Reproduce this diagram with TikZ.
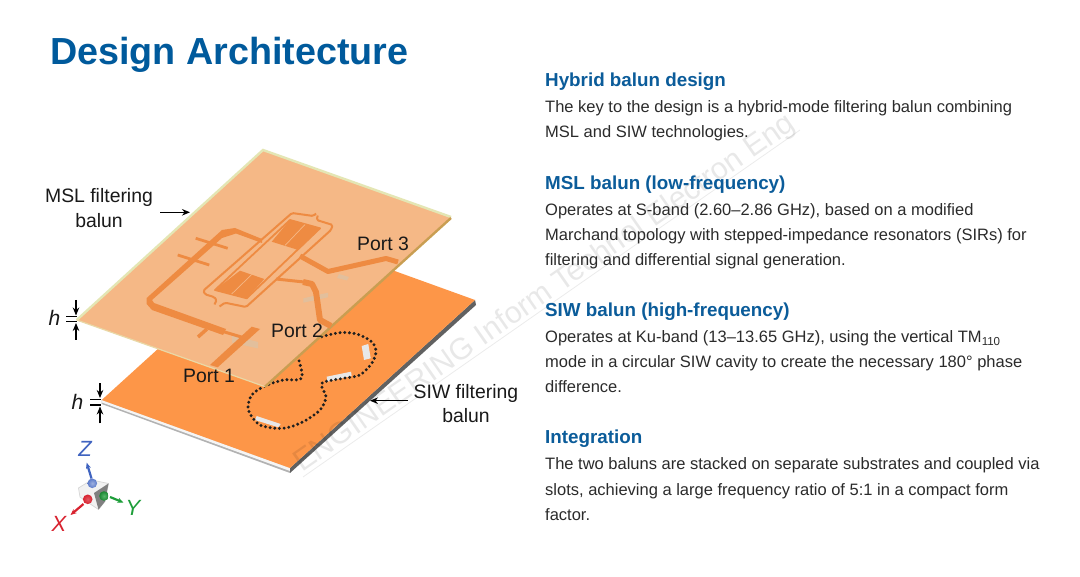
\documentclass[tikz,border=0pt]{standalone}
\usepackage{fontspec}
\setmainfont{Liberation Sans}
\usetikzlibrary{arrows.meta}
\definecolor{titleblue}{HTML}{005A9C}
\definecolor{headblue}{HTML}{0B5C9A}
\definecolor{bodytext}{HTML}{2B2B2B}
\definecolor{topboard}{HTML}{F5B886}
\definecolor{botboard}{HTML}{FD9648}
\definecolor{trace}{HTML}{EE8B42}
\definecolor{edgepale}{HTML}{E4E6B4}
\definecolor{edgegold}{HTML}{C99E52}
\definecolor{slotc}{HTML}{E2BF9C}
\definecolor{axblue}{HTML}{3F63C0}
\definecolor{axred}{HTML}{D8222F}
\definecolor{axgreen}{HTML}{1E9E3A}
\tikzset{
  head/.style={anchor=base west,inner sep=0pt,font=\fontsize{18.8}{20}\selectfont\bfseries,text=headblue},
  body/.style={anchor=base west,inner sep=0pt,font=\fontsize{16.5}{18}\selectfont,text=bodytext},
  lab/.style={inner sep=0pt,font=\fontsize{19.4}{21}\selectfont,text=black!90},
  hlab/.style={inner sep=0pt,font=\fontsize{21}{23}\selectfont\itshape,text=black!90},
  axlab/.style={inner sep=0pt,font=\fontsize{22}{24}\selectfont\itshape},
  tr/.style={draw=trace,line join=round},
  arr/.style={-{Stealth[length=8pt,width=6.5pt]},line width=1.1pt,black},
  tick/.style={line width=1.1pt,black},
  dots/.style={line width=3.3pt,line cap=round,dash pattern=on 0pt off 4.7pt,black!88},
  slotw/.style={fill=black!9,draw=none},
  slott/.style={fill=slotc,draw=none},
  axarr/.style={-{Stealth[length=6pt,width=5pt]},line width=2.2pt},
}
\begin{document}
\begin{tikzpicture}[x=1pt,y=-1pt]
\useasboundingbox (0,0) rectangle (1080,577);
\fill[white] (0,0) rectangle (1080,577);

% lower board
\fill[black!30] (101.7,400) -- (290,468) -- (290,473) -- (101.7,404) -- cycle;
\fill[black!4] (101.7,400) -- (290,468) -- (290,471) -- (101.7,402.4) -- cycle;
\fill[black!62] (290,468) -- (475,300) -- (476,305) -- (290,473) -- cycle;
\fill[botboard] (101.7,400) -- (286.7,232) -- (475,300) -- (290,468) -- cycle;

% lower slots
\fill[slotw] (361.7,346) -- (368.3,344) -- (370.7,358.3) -- (364,360) -- cycle;
\fill[slotw] (326.7,376.7) -- (351,371.7) -- (351.7,376) -- (327.3,381.7) -- cycle;
\fill[slotw] (256.7,416) -- (280.7,424) -- (278.3,427.3) -- (255,420) -- cycle;

% cavity
\draw[dots] plot[smooth] coordinates {(321.7,336.7) (340,332.7) (356.7,334) (371.7,341.7) (376,351.7) (371.7,363.3) (360,375) (343.3,378.3) (321.7,383.3) (326,396.7) (320,410) (303.3,421.7) (283.3,428.3) (260,425) (248.3,410) (251.7,395) (265,386) (283.3,380) (301.7,378.3) (298.3,358.3)};

% upper board
\fill[topboard] (76.7,320) -- (263,150) -- (451,217) -- (265,386.7) -- cycle;
\draw[edgepale,line width=2.4pt] (76.7,320) -- (263,150) -- (451,217);
\draw[edgepale!70!topboard,line width=1.2pt] (76.7,320) -- (265,386.7);
\draw[edgegold,line width=2.4pt] (265,386.7) -- (451,218);

% upper slots
\fill[slott] (232,335.5) -- (258,342) -- (258,348.5) -- (232,342.5) -- cycle;
\fill[slott] (303.3,298.3) -- (328,292.7) -- (328,297.3) -- (303.3,302.7) -- cycle;
\fill[slott] (339,274) -- (349,277) -- (347,280.5) -- (337,278) -- cycle;

% feed network
\fill[trace] (210,365) -- (217.7,367.3) -- (260,329) -- (251.7,326.7) -- cycle;
\draw[tr,line width=3pt] (218,330) -- (243,337.5);
\fill[trace] (146.7,298) -- (146.7,304) -- (152,310) -- (223,335) -- (226,329) -- (154,303) -- (152,300) -- (222,238) -- (236,233.5) -- (262,243) -- (262,239) -- (235,228) -- (222,230) -- cycle;
\draw[tr,line width=3.5pt] (207,329) -- (198,337);
\draw[tr,line width=2.8pt] (195.7,238.3) -- (227.7,248.3);
\draw[tr,line width=2.8pt] (177.7,255) -- (209.3,265);

% right traces
\draw[tr,line width=5pt] (300,256) -- (328,271.5) -- (386,258.5) -- (398,262);
\draw[tr,line width=3pt] (276,279) -- (304,282);
\draw[tr,line width=6pt] (303,282) -- (312,284) -- (316,292) -- (320,320) -- (331,326);

% filter ring
\draw[tr,line width=2pt,rounded corners=1.5pt] (316,213.5) -- (313.3,216) -- (292,213) -- (203.3,290.7) -- (205,294.3) -- (214,297) -- (216.7,300) -- (214.5,304.5);
\draw[tr,line width=2pt,rounded corners=1.5pt] (317.7,215.5) -- (316.7,220) -- (332.7,225) -- (331,230) -- (246,307) -- (225,302.7) -- (219.5,306.5);
\draw[tr,line width=1.8pt] (290,220) -- (320,228.3) -- (246.7,298.3) -- (215,290) -- cycle;
\fill[trace] (290,220) -- (320,228.3) -- (298.3,250) -- (271.7,241.7) -- cycle;
\fill[trace] (240,270.7) -- (264.3,279) -- (246.7,298.3) -- (215,290) -- cycle;
\draw[topboard,line width=.7pt] (305,224.5) -- (285,245.5) (251.7,274.5) -- (231.7,294);

% watermark
\node[anchor=base west,inner sep=0pt,rotate=34.9,font=\fontsize{30.4}{33}\selectfont,text=black,text opacity=.09] (wm) at (302,473) {ENGINEERING Inform Technol Electron Eng};
\coordinate (wma) at (303,477);
\coordinate (wmb) at (800,130);
\draw[black,opacity=.08,line width=.8pt] (wma) -- (wmb);

% labels
\node[lab,align=center] (mslt) at (99,197) {MSL filtering};
\node[lab] (mslb) at (99,221) {balun};
\coordinate (mslaa) at (160,212.3); \coordinate (mslab) at (190,212.3);
\draw[arr] (mslaa) -- (mslab);
\node[lab] (p3) at (383,244) {Port 3};
\node[lab] (p2) at (297,331) {Port 2};
\node[lab] (p1) at (209,376) {Port 1};
\node[lab] (siwt) at (466,393) {SIW filtering};
\node[lab] (siwb) at (466,416) {balun};
\coordinate (siwa) at (408,400.7); \coordinate (siwc) at (370,400.7);
\draw[arr] (siwa) -- (siwc);

% h marks
\node[hlab] (h1) at (54.5,318) {h};
\draw[tick] (66,316.7) -- (77,316.7) (66,321.7) -- (77,321.7);
\coordinate (h1a) at (76,300); \coordinate (h1b) at (76,315.5);
\coordinate (h1c) at (76,340); \coordinate (h1d) at (76,323);
\draw[arr] (h1a) -- (h1b);
\draw[arr] (h1c) -- (h1d);
\node[hlab] (h2) at (77.5,401.5) {h};
\draw[tick] (90,399.3) -- (101,399.3) (90,405) -- (101,405);
\coordinate (h2a) at (100,383.3); \coordinate (h2b) at (100,398);
\coordinate (h2c) at (100,423.3); \coordinate (h2d) at (100,406.5);
\draw[arr] (h2a) -- (h2b);
\draw[arr] (h2c) -- (h2d);

% axis triad
\fill[black!5] (78.5,488) -- (91.5,480) -- (108.5,483.5) -- (105,501.5) -- (98.5,509.5) -- (80,497) -- cycle;
\draw[black!16,line width=.7pt] (78.5,488) -- (91.5,480) -- (108.5,483.5) -- (105,501.5) -- (98.5,509.5) -- (80,497) -- cycle;
\fill[black!50] (94,493) -- (108.5,483.5) -- (105,501.5) -- (98.5,509.5) -- cycle;
\coordinate (axz) at (86.7,462.7); \coordinate (axzb) at (91.5,478.5);
\coordinate (axx) at (70.5,515); \coordinate (axxb) at (83.5,504);
\coordinate (axy) at (123.5,502.5); \coordinate (axyb) at (110,497);
\draw[axarr,axblue] (axzb) -- (axz);
\draw[axarr,axred] (axxb) -- (axx);
\draw[axarr,axgreen] (axyb) -- (axy);
\shade[inner color=axblue!50!white,outer color=axblue!85!white] (92.3,483.3) circle (4.8pt);
\shade[inner color=axred!75!white,outer color=axred] (87.7,499.3) circle (4.8pt);
\shade[inner color=axgreen!75!white,outer color=axgreen!85!black] (104,496) circle (4.8pt);
\node[axlab,text=axblue] (zl) at (85,449) {Z};
\node[axlab,text=axred] (xl) at (59,524) {X};
\node[axlab,text=axgreen] (yl) at (133,508) {Y};

% title
\node[anchor=base west,inner sep=0pt,font=\fontsize{37.7}{40}\selectfont\bfseries,text=titleblue] (title) at (50,65) {Design Architecture};

% right column
\node[head] (a0) at (545,86.5) {Hybrid balun design};
\node[body] (a1) at (545,112.5) {The key to the design is a hybrid-mode filtering balun combining};
\node[body] (a2) at (545,137.5) {MSL and SIW technologies.};
\node[head] (b0) at (545,190) {MSL balun (low-frequency)};
\node[body] (b1) at (545,215.5) {Operates at S-band (2.60–2.86 GHz), based on a modified};
\node[body] (b2) at (545,240.5) {Marchand topology with stepped-impedance resonators (SIRs) for};
\node[body] (b3) at (545,265.5) {filtering and differential signal generation.};
\node[head] (c0) at (545,317) {SIW balun (high-frequency)};
\node[body] (c1) at (545,342.5) {Operates at Ku-band (13–13.65 GHz), using the vertical TM\textsubscript{110}};
\node[body] (c2) at (545,367.5) {mode in a circular SIW cavity to create the necessary 180° phase};
\node[body] (c3) at (545,392.5) {difference.};
\node[head] (d0) at (545,444) {Integration};
\node[body] (d1) at (545,470) {The two baluns are stacked on separate substrates and coupled via};
\node[body] (d2) at (545,495) {slots, achieving a large frequency ratio of 5:1 in a compact form};
\node[body] (d3) at (545,520) {factor.};
\end{tikzpicture}
\end{document}
